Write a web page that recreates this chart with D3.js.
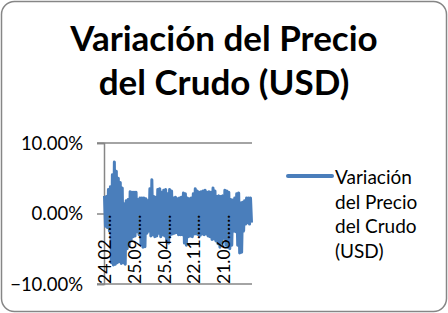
<!DOCTYPE html>
<html><head><meta charset="utf-8">
<script src="https://cdn.jsdelivr.net/npm/d3@7"></script>
<style>body{margin:0;background:#fff}svg{display:block}</style>
</head><body>
<script>
const titleLines = ["Variación del Precio", "del Crudo (USD)"];
const seriesName = ["Variación", "del Precio", "del Crudo", "(USD)"];
const yTicks = [0.10, 0.00, -0.10];
const tickLabels = ["24.02......", "25.09......", "25.04......", "22.11......", "21.06......"];
const tickIndex = [0, 30, 60, 90, 120];
const values = [
 2.5,-1.8,2.4,-2.0,3.4,-2.5,3.8,-7.0,5.5,-7.3,
 7.3,-7.2,6.0,-7.0,5.0,-6.8,4.4,-7.1,3.6,-7.0,
 1.4,-7.2,1.8,-5.0,2.0,-4.6,3.1,-3.8,3.0,-3.3,
 3.0,-3.2,3.0,-2.6,2.0,-3.0,2.2,-4.4,2.2,-4.8,
 2.2,-4.7,2.1,-2.8,1.8,-2.5,3.5,-3.2,4.8,-3.0,
 2.4,-3.3,2.3,-3.2,3.4,-2.8,3.5,-3.3,3.0,-3.0,
 3.3,-3.2,3.4,-4.0,2.8,-4.2,3.4,-3.0,3.2,-2.9,
 2.2,-2.8,2.3,-2.7,2.1,-3.0,2.2,-3.0,2.3,-3.0,
 2.9,-4.2,2.8,-4.5,2.2,-3.3,2.1,-3.2,2.2,-3.3,
 2.8,-2.9,3.5,-2.9,3.2,-3.0,3.0,-3.1,3.1,-2.9,
 3.2,-3.0,3.3,-2.9,3.0,-3.2,3.1,-3.3,3.0,-3.7,
 3.6,-3.6,3.2,-3.9,2.4,-4.3,2.5,-4.8,2.4,-4.2,
 2.5,-3.5,3.3,-4.5,3.2,-4.8,3.0,-5.0,2.0,-4.5,
 1.9,-2.5,2.2,-2.6,2.8,-4.5,2.9,-5.6,1.5,-5.5,
 1.6,-2.5,1.8,-1.5,2.2,-1.3,2.2,-1.5,2.2,-1.3
].map(v => v / 100);

const W = 448, H = 313;
const svg = d3.select("body").append("svg").attr("width", W).attr("height", H);
const font = "Lato, 'Open Sans', sans-serif";

svg.append("rect").attr("x", 1.5).attr("y", 1.5).attr("width", W - 3).attr("height", H - 3)
  .attr("rx", 13).attr("fill", "#fff").attr("stroke", "#868686").attr("stroke-width", 1.5);

svg.append("g").selectAll("text").data(titleLines).join("text")
  .attr("x", 224).attr("y", (d, i) => 51 + i * 44)
  .attr("text-anchor", "middle").attr("font-family", font).attr("font-weight", 700)
  .attr("font-size", 35).attr("fill", "#000").text(d => d);

const x = d3.scaleBand().domain(d3.range(values.length)).range([104, 252]);
const y = d3.scaleLinear().domain([-0.10, 0.10]).range([284, 143]);

svg.append("g").selectAll("line").data([0.10, -0.10]).join("line")
  .attr("x1", 97).attr("x2", 252).attr("y1", d => y(d)).attr("y2", d => y(d))
  .attr("stroke", "#868686").attr("stroke-width", 1.5);

const yAxis = svg.append("g").attr("transform", "translate(104,0)")
  .call(d3.axisLeft(y).tickValues(yTicks).tickSize(7).tickFormat(d3.format(".2%")));
yAxis.select(".domain").attr("stroke", "#868686").attr("stroke-width", 1.5);
yAxis.selectAll(".tick line").attr("stroke", "#868686").attr("stroke-width", 1.5);
yAxis.selectAll(".tick text").attr("font-family", font).attr("font-size", 18.5)
  .attr("fill", "#000").attr("x", -21).attr("dy", "0.35em");

const line = d3.line().x((d, i) => x(i) + x.bandwidth() / 2).y(d => y(d));
svg.append("path").datum(values).attr("d", line).attr("fill", "none")
  .attr("stroke", "#4a7ebb").attr("stroke-width", 3).attr("stroke-linejoin", "round");

svg.append("g").selectAll("text").data(tickIndex).join("text")
  .attr("transform", d => `translate(${x(d) + x.bandwidth() / 2 + 7},${y(0) + 1}) rotate(-90)`)
  .attr("text-anchor", "end").attr("font-family", font).attr("font-size", 17.5)
  .attr("fill", "#000").text((d, i) => tickLabels[i]);

const lg = svg.append("g");
lg.append("line").attr("x1", 288).attr("x2", 332).attr("y1", 176).attr("y2", 176)
  .attr("stroke", "#4a7ebb").attr("stroke-width", 4).attr("stroke-linecap", "round");
lg.selectAll("text").data(seriesName).join("text")
  .attr("x", 335).attr("y", (d, i) => 184 + i * 24.5)
  .attr("font-family", font).attr("font-size", 19).attr("fill", "#000").text(d => d);
</script>
</body></html>
